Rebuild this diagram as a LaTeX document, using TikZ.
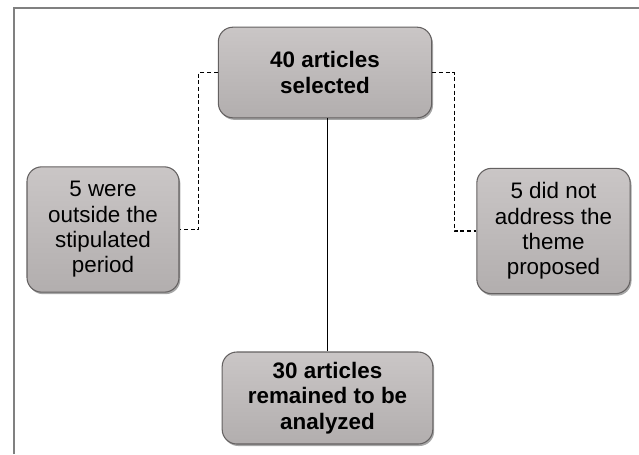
\documentclass[tikz,border=0pt]{standalone}
\usepackage{fontspec}
\setmainfont{Liberation Sans}
\usepackage{xcolor}
\usetikzlibrary{calc,positioning,shadows}

\definecolor{boxhi}{RGB}{202,198,198}
\definecolor{boxlo}{RGB}{178,174,174}
\definecolor{boxedge}{RGB}{100,97,97}
\definecolor{framegray}{RGB}{128,128,128}

\begin{document}
\begin{tikzpicture}[x=0.75pt, y=-0.75pt, thick, font=\fontsize{16.8}{19}\selectfont,
  boxstyle/.style={draw=boxedge, line width=0.8pt, rounded corners=11pt,
                   top color=boxhi, bottom color=boxlo, align=center,
                   inner sep=2pt,
                   drop shadow={shadow xshift=1pt, shadow yshift=-1.5pt,
                                opacity=0.35, fill=black}},
  link/.style={line width=1.1pt, black},
  dashlink/.style={line width=0.8pt, black, dash pattern=on 3pt off 2pt}]

  \useasboundingbox (0,0) rectangle (639,454);

  %--- Frame ---------------------------------------------------------------
  \draw[framegray, line width=1.1pt] (14,454) -- (14,8) -- (639,8);

  %--- Boxes ---------------------------------------------------------------
  \node[boxstyle, minimum width=160pt, minimum height=68pt]
       (sel) at (325,72.5) {\textbf{40 articles}\\\textbf{selected}};
  \node[boxstyle, minimum width=114pt, minimum height=94pt]
       (out) at (103,229.5) {5 were\\outside the\\stipulated\\period};
  \node[boxstyle, minimum width=115pt, minimum height=94pt]
       (theme) at (553.5,231) {5 did not\\address the\\theme\\proposed};
  \node[boxstyle, minimum width=158pt, minimum height=69pt]
       (rem) at (327.5,398) {\textbf{30 articles}\\\textbf{remained to be}\\\textbf{analyzed}};

  %--- Connectors ----------------------------------------------------------
  \draw[dashlink] (sel.west) -- ++(-19,0) |- (out.east);
  \draw[dashlink] (sel.east) -- ++(22,0) |- (theme.west);
  \draw[link] (rem.north |- sel.south) -- (rem.north);

\end{tikzpicture}
\end{document}
